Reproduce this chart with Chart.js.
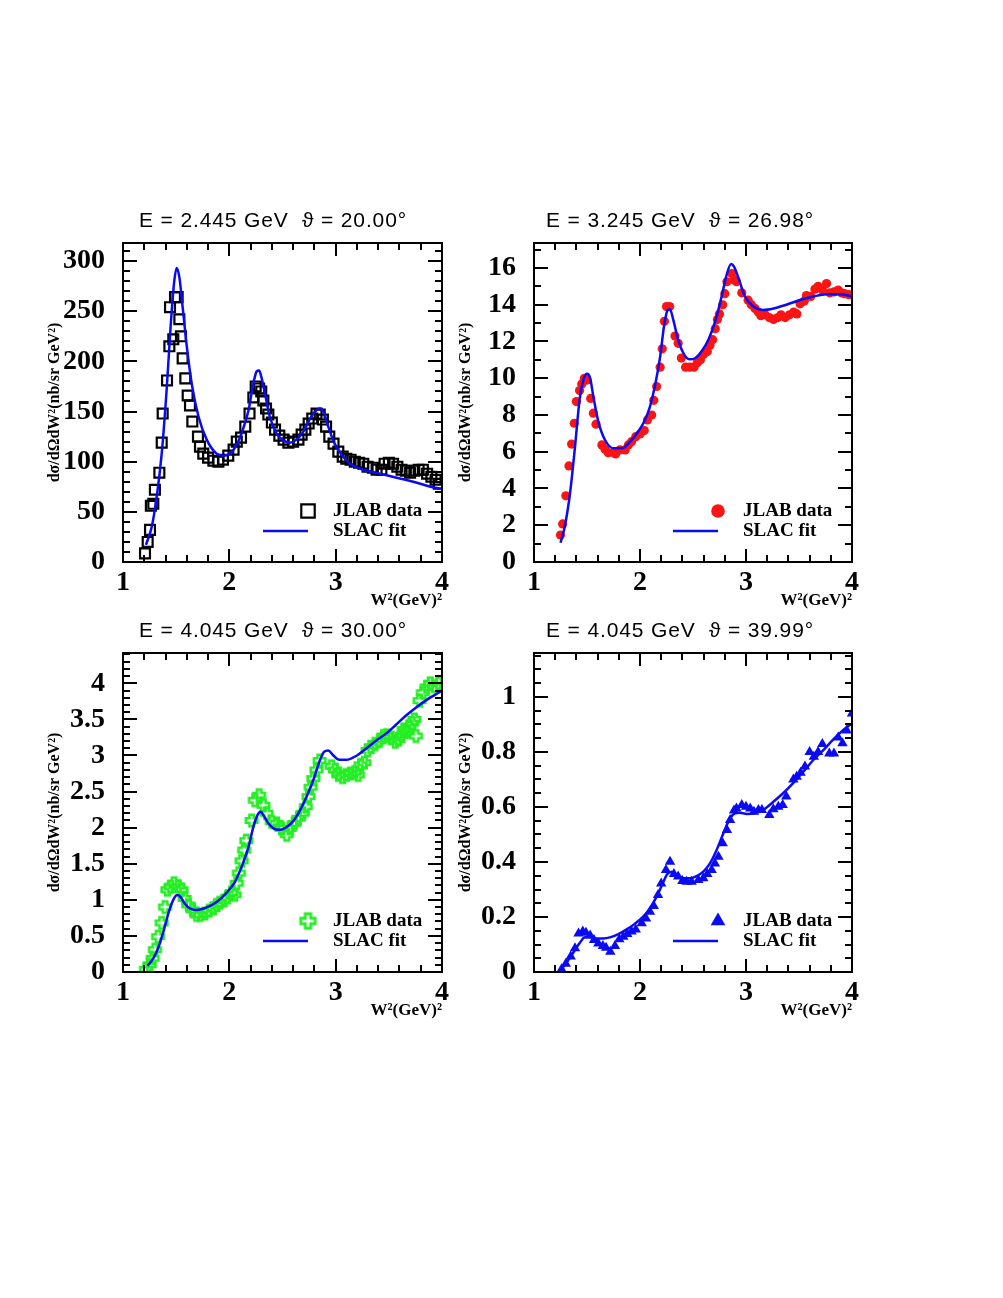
<!DOCTYPE html>
<html lang="en">
<head>
    <meta charset="UTF-8">
    <title>JLAB data vs SLAC fit</title>
    <script src="https://cdn.jsdelivr.net/npm/chart.js"></script>
    <style>
        body { margin: 0; background: #fff; }
        #page { position: relative; width: 1003px; height: 1298px; }
        #page canvas { position: absolute; }
    </style>
</head>
<body>
<div id="page">
    <canvas id="c1"></canvas>
    <canvas id="c2"></canvas>
    <canvas id="c3"></canvas>
    <canvas id="c4"></canvas>
</div>

<script>
// ---- data (x = W^2 in GeV^2) ----
var xTicks = [1, 2, 3, 4];

// E = 2.445 GeV, theta = 20.00
var jlabW1 = [1.207, 1.232, 1.254, 1.262, 1.285, 1.300, 1.342, 1.364, 1.373, 1.414,
    1.436, 1.442, 1.473, 1.489, 1.514, 1.530, 1.545, 1.561, 1.586, 1.608,
    1.630, 1.652, 1.705, 1.724, 1.755, 1.800, 1.850, 1.897, 1.940, 1.990,
    2.040, 2.070, 2.110, 2.150, 2.190, 2.226, 2.248, 2.280, 2.300, 2.320,
    2.345, 2.367, 2.400, 2.430, 2.470, 2.510, 2.555, 2.600, 2.650, 2.680,
    2.715, 2.746, 2.780, 2.820, 2.850, 2.880, 2.910, 2.940, 2.980, 3.025,
    3.066, 3.100, 3.140, 3.180, 3.220, 3.260, 3.300, 3.350, 3.385, 3.430,
    3.460, 3.500, 3.540, 3.580, 3.620, 3.660, 3.700, 3.740, 3.780, 3.820,
    3.860, 3.900, 3.940, 3.970];
var jlabXs1 = [8.6, 20, 32, 56, 58, 72, 89, 119, 148, 181,
    215, 254, 222, 264, 264, 242, 225, 203, 183, 166,
    156, 140, 125, 115, 108, 104, 101, 100, 102, 106,
    112, 120, 124, 135, 148, 164, 175, 173, 170, 161,
    153, 147, 139, 132, 126, 122, 119, 120, 122, 127,
    132, 138, 143, 148, 147, 142, 135, 125, 118, 110,
    105, 103, 102, 100, 99, 98, 95, 94, 92, 92,
    98, 99, 98, 95, 92, 91, 89, 91, 92, 92,
    88, 85, 82, 78];
var fitW1 = [1.216, 1.27, 1.317, 1.364, 1.41, 1.448, 1.48, 1.505, 1.53, 1.561,
    1.60, 1.646, 1.71, 1.787, 1.88, 1.944, 2.006, 2.07, 2.13, 2.18,
    2.226, 2.257, 2.28, 2.30, 2.335, 2.38, 2.445, 2.51, 2.57, 2.633,
    2.696, 2.76, 2.806, 2.85, 2.884, 2.93, 2.99, 3.056, 3.135, 3.26,
    3.417, 3.574, 3.73, 3.935, 4.0];
var fitXs1 = [17, 35, 65, 108, 171, 235, 278, 293, 284, 254,
    215, 178, 145, 122, 108, 106, 108, 117, 133, 151,
    178, 190, 191, 185, 168, 145, 128, 121, 119, 122,
    130, 143, 150, 153, 150, 135, 118, 107, 98, 92,
    88, 84, 80, 74, 73];
var yTicks1 = [0, 50, 100, 150, 200, 250, 300];

// E = 3.245 GeV, theta = 26.98
var jlabW2 = [1.25, 1.27, 1.30, 1.33, 1.355, 1.38, 1.40, 1.43, 1.45, 1.475,
    1.50, 1.535, 1.56, 1.585, 1.64, 1.67, 1.70, 1.75, 1.77, 1.81,
    1.86, 1.89, 1.92, 1.96, 2.00, 2.04, 2.07, 2.11, 2.13, 2.157,
    2.19, 2.21, 2.23, 2.25, 2.28, 2.33, 2.36, 2.39, 2.43, 2.47,
    2.51, 2.54, 2.57, 2.60, 2.635, 2.66, 2.685, 2.71, 2.73, 2.75,
    2.78, 2.80, 2.82, 2.865, 2.89, 2.91, 2.96, 3.02, 3.05, 3.085,
    3.116, 3.14, 3.18, 3.22, 3.26, 3.30, 3.33, 3.37, 3.41, 3.45,
    3.48, 3.51, 3.55, 3.57, 3.61, 3.65, 3.68, 3.72, 3.76, 3.79,
    3.83, 3.87, 3.90, 3.93, 3.97];
var jlabXs2 = [1.47, 2.07, 3.6, 5.23, 6.42, 7.55, 8.73, 9.33, 9.69, 10.0,
    9.9, 8.9, 8.1, 7.5, 6.37, 6.13, 5.95, 5.95, 5.88, 6.1,
    6.1, 6.37, 6.55, 6.82, 6.97, 7.15, 7.73, 8.0, 8.8, 9.55,
    10.6, 11.6, 13.1, 13.9, 13.9, 12.3, 11.9, 11.1, 10.6, 10.6,
    10.6, 10.85, 11.0, 11.3, 11.45, 11.8, 12.1, 12.7, 13.2, 13.5,
    14.0, 14.6, 15.25, 15.7, 15.35, 15.25, 14.65, 14.25, 14.0, 13.8,
    13.6, 13.4, 13.45, 13.3, 13.2, 13.3, 13.45, 13.3, 13.45, 13.6,
    13.5, 14.05, 14.2, 14.5, 14.45, 14.85, 15.0, 14.8, 15.15, 14.65,
    14.7, 14.8, 14.65, 14.6, 14.55];
var fitW2 = [1.25, 1.29, 1.34, 1.387, 1.43, 1.465, 1.50, 1.53, 1.56, 1.607,
    1.67, 1.75, 1.83, 1.906, 1.984, 2.047, 2.094, 2.14, 2.19, 2.226,
    2.258, 2.283, 2.314, 2.36, 2.41, 2.465, 2.52, 2.58, 2.645, 2.71,
    2.77, 2.817, 2.86, 2.887, 2.93, 2.99, 3.07, 3.16, 3.26, 3.38,
    3.51, 3.635, 3.76, 3.887, 4.0];
var fitXs2 = [1.05, 1.92, 3.74, 6.28, 8.82, 9.9, 10.24, 10.0, 9.0, 7.64,
    6.64, 6.19, 6.19, 6.55, 7.1, 7.73, 8.46, 9.55, 11.18, 12.8,
    13.68, 13.76, 13.18, 12.09, 11.36, 11.03, 11.09, 11.45, 12.09, 13.09,
    14.45, 15.63, 16.22, 16.08, 15.44, 14.45, 13.9, 13.72, 13.8, 14.0,
    14.26, 14.45, 14.57, 14.57, 14.46];
var yTicks2 = [0, 2, 4, 6, 8, 10, 12, 14, 16];

// E = 4.045 GeV, theta = 30.00
var jlabW3 = [1.216, 1.25, 1.28, 1.30, 1.33, 1.364, 1.395, 1.417, 1.448, 1.48,
    1.52, 1.55, 1.58, 1.614, 1.655, 1.693, 1.724, 1.77, 1.81, 1.85,
    1.88, 1.91, 1.95, 1.98, 2.02, 2.05, 2.07, 2.09, 2.116, 2.14,
    2.16, 2.21, 2.24, 2.28, 2.32, 2.35, 2.40, 2.445, 2.49, 2.54,
    2.57, 2.61, 2.65, 2.69, 2.72, 2.745, 2.765, 2.79, 2.82, 2.85,
    2.962, 2.994, 3.025, 3.066, 3.10, 3.14, 3.18, 3.21, 3.235, 3.27,
    3.30, 3.33, 3.37, 3.41, 3.45, 3.48, 3.52, 3.56, 3.59, 3.62,
    3.64, 3.67, 3.69, 3.72, 3.74, 3.755, 3.79, 3.82, 3.856, 3.89,
    3.93, 3.97];
var jlabXs3 = [0.037, 0.10, 0.19, 0.31, 0.49, 0.68, 0.90, 1.14, 1.18, 1.23,
    1.19, 1.14, 1.02, 0.93, 0.86, 0.79, 0.79, 0.81, 0.85, 0.88,
    0.93, 0.96, 0.99, 1.03, 1.10, 1.07, 1.23, 1.37, 1.54, 1.69,
    1.82, 2.10, 2.38, 2.45, 2.31, 2.20, 2.08, 2.06, 1.99, 1.90,
    1.99, 2.06, 2.13, 2.20, 2.29, 2.43, 2.56, 2.68, 2.80, 2.93,
    2.85, 2.80, 2.73, 2.70, 2.73, 2.75, 2.77, 2.73, 2.87, 2.90,
    3.07, 3.12, 3.16, 3.20, 3.27, 3.28, 3.25, 3.19, 3.22, 3.28,
    3.36, 3.33, 3.40, 3.45, 3.50, 3.27, 3.76, 3.87, 3.95, 4.0,
    3.96, 4.0];
var fitW3 = [1.229, 1.285, 1.33, 1.38, 1.426, 1.473, 1.51, 1.54, 1.58, 1.63,
    1.693, 1.787, 1.88, 1.975, 2.053, 2.116, 2.18, 2.226, 2.263, 2.295,
    2.326, 2.367, 2.414, 2.476, 2.54, 2.60, 2.665, 2.727, 2.79, 2.846,
    2.89, 2.93, 2.978, 3.034, 3.10, 3.20, 3.29, 3.385, 3.48, 3.57,
    3.667, 3.76, 3.856, 4.0];
var fitXs3 = [0.083, 0.19, 0.33, 0.56, 0.81, 1.0, 1.066, 1.04, 0.95, 0.88,
    0.86, 0.895, 0.97, 1.10, 1.25, 1.46, 1.73, 2.01, 2.17, 2.22,
    2.16, 2.06, 1.99, 1.97, 2.01, 2.09, 2.24, 2.43, 2.66, 2.91,
    3.05, 3.07, 3.00, 2.94, 2.94, 3.00, 3.10, 3.21, 3.31, 3.43,
    3.56, 3.67, 3.77, 3.90];
var yTicks3 = [0, 0.5, 1, 1.5, 2, 2.5, 3, 3.5, 4];

// E = 4.045 GeV, theta = 39.99
var jlabW4 = [1.26, 1.30, 1.346, 1.387, 1.42, 1.46, 1.49, 1.53, 1.566, 1.607,
    1.65, 1.68, 1.72, 1.764, 1.805, 1.843, 1.88, 1.92, 1.96, 2.016,
    2.057, 2.094, 2.13, 2.17, 2.20, 2.245, 2.283, 2.32, 2.36, 2.40,
    2.44, 2.487, 2.55, 2.597, 2.635, 2.676, 2.707, 2.74, 2.78, 2.82,
    2.85, 2.887, 2.91, 2.96, 3.0, 3.04, 3.075, 3.117, 3.15, 3.22,
    3.258, 3.305, 3.346, 3.38, 3.447, 3.478, 3.515, 3.556, 3.60, 3.64,
    3.68, 3.72, 3.786, 3.83, 3.87, 3.91, 3.95, 4.0];
var jlabXs4 = [0.01, 0.03, 0.056, 0.086, 0.14, 0.147, 0.143, 0.133, 0.116, 0.104,
    0.095, 0.088, 0.074, 0.095, 0.119, 0.128, 0.138, 0.147, 0.155, 0.177,
    0.195, 0.219, 0.24, 0.28, 0.322, 0.371, 0.401, 0.356, 0.347, 0.331,
    0.328, 0.328, 0.335, 0.341, 0.356, 0.371, 0.395, 0.419, 0.468, 0.516,
    0.553, 0.587, 0.595, 0.607, 0.601, 0.595, 0.583, 0.589, 0.589, 0.571,
    0.592, 0.601, 0.607, 0.638, 0.70, 0.71, 0.725, 0.747, 0.80, 0.783,
    0.80, 0.829, 0.795, 0.795, 0.853, 0.832, 0.878, 0.94];
var fitW4 = [1.25, 1.29, 1.34, 1.387, 1.434, 1.48, 1.53, 1.59, 1.654, 1.717,
    1.796, 1.874, 1.95, 2.03, 2.094, 2.157, 2.214, 2.258, 2.30, 2.346,
    2.41, 2.47, 2.535, 2.597, 2.66, 2.723, 2.786, 2.85, 2.896, 2.94,
    3.006, 3.085, 3.16, 3.258, 3.35, 3.447, 3.54, 3.635, 3.73, 3.824,
    3.918, 4.0];
var fitXs4 = [0.005, 0.025, 0.053, 0.08, 0.107, 0.126, 0.126, 0.122, 0.122, 0.126,
    0.138, 0.155, 0.175, 0.201, 0.232, 0.274, 0.322, 0.356, 0.365, 0.353,
    0.341, 0.341, 0.349, 0.365, 0.395, 0.444, 0.504, 0.559, 0.577, 0.579,
    0.575, 0.577, 0.589, 0.619, 0.65, 0.688, 0.728, 0.771, 0.807, 0.846,
    0.88, 0.904];
var yTicks4 = [0, 0.2, 0.4, 0.6, 0.8, 1];

var BLUE = 'rgb(10,10,245)';
var SERIF = '"Liberation Serif", "Times New Roman", serif';

// hollow "open cross" marker like ROOT style 28
function openCross(size, color, lw) {
    var c = document.createElement('canvas');
    var s = Math.ceil(size + lw * 2);
    c.width = s; c.height = s;
    var g = c.getContext('2d');
    var m = s / 2, h = size / 2, a = size * 0.19;
    g.beginPath();
    g.moveTo(m - a, m - h); g.lineTo(m + a, m - h); g.lineTo(m + a, m - a);
    g.lineTo(m + h, m - a); g.lineTo(m + h, m + a); g.lineTo(m + a, m + a);
    g.lineTo(m + a, m + h); g.lineTo(m - a, m + h); g.lineTo(m - a, m + a);
    g.lineTo(m - h, m + a); g.lineTo(m - h, m - a); g.lineTo(m - a, m - a);
    g.closePath();
    g.strokeStyle = color;
    g.lineWidth = lw;
    g.lineJoin = 'miter';
    g.stroke();
    return c;
}

var GREEN = 'rgb(36,238,36)';

var panels = [
    { id: 'c1', left: 40, top: 203, plotW: 319, w: jlabW1, v: jlabXs1, fw: fitW1, fv: fitXs1,
      yMax: 318, yTicks: yTicks1, yMinor: 10, yMajor: 50,
      title: 'E = 2.445 GeV  \u03d1 = 20.00\u00b0', titleX: 273, titleY: 221.5,
      point: { style: 'rect', r: 7, lr: 9.5, fill: 'rgba(0,0,0,0)', line: '#000', bw: 2.2 } },
    { id: 'c2', left: 451, top: 203, plotW: 318, w: jlabW2, v: jlabXs2, fw: fitW2, fv: fitXs2,
      yMax: 17.36, yTicks: yTicks2, yMinor: 1, yMajor: 2,
      title: 'E = 3.245 GeV  \u03d1 = 26.98\u00b0', titleX: 680, titleY: 221.5,
      point: { style: 'circle', r: 4.6, lr: 6.8, fill: 'rgb(250,20,20)', line: 'rgb(250,20,20)', bw: 0 } },
    { id: 'c3', left: 40, top: 613, plotW: 319, w: jlabW3, v: jlabXs3, fw: fitW3, fv: fitXs3,
      yMax: 4.42, yTicks: yTicks3, yMinor: 0.1, yMajor: 0.5,
      title: 'E = 4.045 GeV  \u03d1 = 30.00\u00b0', titleX: 273, titleY: 631.5,
      point: { style: openCross(11.5, GREEN, 2.6), r: 6, lr: 8, legendStyle: openCross(14.5, GREEN, 2.8),
               fill: GREEN, line: GREEN, bw: 0 } },
    { id: 'c4', left: 451, top: 613, plotW: 318, w: jlabW4, v: jlabXs4, fw: fitW4, fv: fitXs4,
      yMax: 1.16, yTicks: yTicks4, yMinor: 0.05, yMajor: 0.2,
      title: 'E = 4.045 GeV  \u03d1 = 39.99\u00b0', titleX: 680, titleY: 631.5,
      point: { style: 'triangle', r: 6, lr: 8.5, fill: BLUE, line: BLUE, bw: 0 } }
];

function isMultiple(v, step) {
    var q = v / step;
    return Math.abs(q - Math.round(q)) < 1e-6;
}

// frame + inward ticks on all four sides, drawn from the scales
var frameTicks = {
    id: 'frameTicks',
    afterDatasetsDraw: function(chart, args, opts) {
        var ctx = chart.ctx, a = chart.chartArea;
        var xs = chart.scales.x, ys = chart.scales.y;
        ctx.save();
        ctx.strokeStyle = '#000';
        ctx.lineWidth = 2;
        ctx.beginPath();
        var i, v, p, len;
        for (i = 0; ; i++) {
            v = xs.min + i * opts.xMinor;
            if (v > xs.max + 1e-9) break;
            p = Math.round(xs.getPixelForValue(v));
            len = isMultiple(v, opts.xMajor) ? 13 : 7;
            ctx.moveTo(p, a.bottom); ctx.lineTo(p, a.bottom - len);
            ctx.moveTo(p, a.top); ctx.lineTo(p, a.top + len);
        }
        for (i = 0; ; i++) {
            v = ys.min + i * opts.yMinor;
            if (v > ys.max + 1e-9) break;
            p = Math.round(ys.getPixelForValue(v));
            len = isMultiple(v, opts.yMajor) ? 14 : 7;
            ctx.moveTo(a.left, p); ctx.lineTo(a.left + len, p);
            ctx.moveTo(a.right, p); ctx.lineTo(a.right - len, p);
        }
        ctx.stroke();
        ctx.strokeRect(a.left, a.top, a.right - a.left, a.bottom - a.top);
        ctx.restore();
    }
};

// panel caption above the frame and the little legend box inside it
var panelText = {
    id: 'panelText',
    afterDraw: function(chart, args, opts) {
        var ctx = chart.ctx, a = chart.chartArea;
        ctx.save();
        // caption
        ctx.font = '21px "Liberation Sans", Arial, sans-serif';
        ctx.fillStyle = '#000';
        ctx.textBaseline = 'middle';
        ctx.textAlign = 'center';
        var w0 = ctx.measureText(opts.title).width;
        if ('letterSpacing' in ctx) {
            ctx.letterSpacing = Math.max(0, (opts.titleWidth - w0) / opts.title.length).toFixed(2) + 'px';
        }
        ctx.fillText(opts.title, opts.titleX, opts.titleY);
        if ('letterSpacing' in ctx) ctx.letterSpacing = '0px';

        // legend
        var pts = chart.data.datasets[1];
        var mx = a.right - 134, my = a.bottom - 51;
        ctx.fillStyle = pts.backgroundColor;
        ctx.strokeStyle = pts.borderColor;
        ctx.lineWidth = pts.borderWidth;
        Chart.helpers.drawPoint(ctx, {
            pointStyle: opts.legendStyle || pts.pointStyle,
            radius: opts.legendRadius,
            rotation: 0,
            borderWidth: pts.borderWidth
        }, mx, my);

        ctx.strokeStyle = BLUE;
        ctx.lineWidth = 2.5;
        ctx.beginPath();
        ctx.moveTo(a.right - 179, a.bottom - 31);
        ctx.lineTo(a.right - 134, a.bottom - 31);
        ctx.stroke();

        ctx.fillStyle = '#000';
        ctx.textAlign = 'left';
        ctx.font = 'bold 19px ' + SERIF;
        ctx.fillText(pts.label, a.right - 109, a.bottom - 51);
        ctx.fillText(chart.data.datasets[0].label, a.right - 109, a.bottom - 31);
        ctx.restore();
    }
};

function toXY(xv, yv) {
    return xv.map(function(x, i) { return { x: x, y: yv[i] }; });
}

panels.forEach(function(p) {
    var cv = document.getElementById(p.id);
    cv.width = 83 + p.plotW + 16;
    cv.height = 40 + 319 + 50;
    cv.style.left = p.left + 'px';
    cv.style.top = p.top + 'px';

    var tickFont = { family: SERIF, size: 28, weight: 'bold' };
    new Chart(cv, {
        type: 'scatter',
        data: {
            datasets: [{
                label: 'SLAC fit',
                data: toXY(p.fw, p.fv),
                showLine: true,
                borderColor: BLUE,
                borderWidth: 2.5,
                pointRadius: 0,
                cubicInterpolationMode: 'monotone',
                fill: false,
                order: 0
            }, {
                label: 'JLAB data',
                data: toXY(p.w, p.v),
                showLine: false,
                pointStyle: p.point.style,
                pointRadius: p.point.r,
                backgroundColor: p.point.fill,
                borderColor: p.point.line,
                borderWidth: p.point.bw,
                order: 1
            }]
        },
        options: {
            responsive: false,
            animation: false,
            events: [],
            layout: { padding: { top: 40, right: 16, bottom: 0, left: 0 } },
            plugins: {
                legend: { display: false },
                tooltip: { enabled: false },
                frameTicks: { xMinor: 0.2, xMajor: 1, yMinor: p.yMinor, yMajor: p.yMajor },
                panelText: {
                    title: p.title, titleWidth: 268,
                    titleX: p.titleX - p.left, titleY: p.titleY - p.top,
                    legendRadius: p.point.lr, legendStyle: p.point.legendStyle
                }
            },
            scales: {
                x: {
                    type: 'linear',
                    min: 1, max: 4,
                    afterBuildTicks: function(s) { s.ticks = xTicks.map(function(v) { return { value: v }; }); },
                    afterFit: function(s) { s.height = 50; },
                    grid: { display: false, drawTicks: false },
                    border: { display: false },
                    ticks: { font: tickFont, color: '#000', padding: 4, maxRotation: 0, autoSkip: false },
                    title: {
                        display: true, text: 'W\u00b2(GeV)\u00b2', align: 'end', color: '#000',
                        font: { family: SERIF, size: 17, weight: 'bold' },
                        padding: { top: 0, bottom: 1 }
                    }
                },
                y: {
                    type: 'linear',
                    min: 0, max: p.yMax,
                    afterBuildTicks: function(s) { s.ticks = p.yTicks.map(function(v) { return { value: v }; }); },
                    afterFit: function(s) { s.width = 83; },
                    grid: { display: false, drawTicks: false },
                    border: { display: false },
                    ticks: {
                        font: tickFont, color: '#000', padding: 18, autoSkip: false,
                        callback: function(v) { return String(+Number(v).toFixed(2)); }
                    },
                    title: {
                        display: true, text: 'd\u03c3/d\u03a9dW\u00b2(nb/sr GeV\u00b2)', color: '#000',
                        font: { family: SERIF, size: 16, weight: 'bold' },
                        padding: { top: 5, bottom: 0 }
                    }
                }
            }
        },
        plugins: [frameTicks, panelText]
    });
});
</script>
</body>
</html>
